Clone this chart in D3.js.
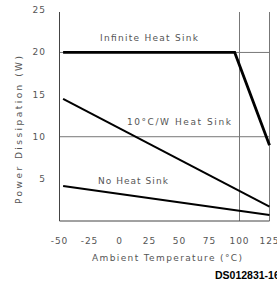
<!DOCTYPE html>
<html>
<head>
<meta charset="utf-8">
<script src="https://cdn.jsdelivr.net/npm/d3@7"></script>
<style>
  body { margin: 0; background: #fff; }
  svg text { font-family: "DejaVu Sans", sans-serif; }
</style>
</head>
<body>
<svg id="chart" width="277" height="284"></svg>
<script>
// curves
var infiniteSink = [[-47, 20], [96, 20], [125, 9]];
var tenCWSink = [[-47, 14.5], [125, 1.7]];
var noSink = [[-47, 4.15], [125, 0.7]];

var xTicks = [-50, -25, 0, 25, 50, 75, 100, 125];
var xTickLabels = ["-50", "-25", "0", "25", "50", "75", "100", "125"];
var yTicks = [5, 10, 15, 20, 25];
var xGrid = [100, 125];
var yGrid = [10, 20];

// label anchors in data units (temperature, watts)
var curveLabels = [
  {text: "Infinite Heat Sink", t: -16.2, p: 21.3, w: 98},
  {text: "10\u00B0C/W Heat Sink", t: 6.2, p: 11.4, w: 104},
  {text: "No Heat Sink", t: -18, p: 4.4, w: 70}
];

var svg = d3.select("#chart");

var x = d3.scaleLinear().domain([-50, 125]).range([59.5, 269.5]);
var y = d3.scaleLinear().domain([0, 25]).range([221, 10.3]);

var grey = "#555";

// grid lines
svg.selectAll(".vgrid").data(xGrid).enter().append("line")
  .attr("x1", function(d) { return x(d); }).attr("x2", function(d) { return x(d); })
  .attr("y1", y(24.8)).attr("y2", y(0))
  .attr("stroke", "#777").attr("stroke-width", 1);

svg.selectAll(".hgrid").data(yGrid).enter().append("line")
  .attr("x1", x(-50)).attr("x2", x(125))
  .attr("y1", function(d) { return y(d); }).attr("y2", function(d) { return y(d); })
  .attr("stroke", "#777").attr("stroke-width", 1);

// axes lines
svg.append("line").attr("x1", x(-50)).attr("x2", x(-50)).attr("y1", y(24.8)).attr("y2", y(0))
  .attr("stroke", "#444").attr("stroke-width", 1);
svg.append("line").attr("x1", x(-50)).attr("x2", x(125)).attr("y1", y(0)).attr("y2", y(0))
  .attr("stroke", "#444").attr("stroke-width", 1);

// tick labels
svg.selectAll(".xt").data(xTicks).enter().append("text")
  .attr("x", function(d) { return x(d); })
  .attr("y", 244)
  .attr("text-anchor", "middle")
  .attr("font-size", 9)
  .attr("letter-spacing", 1)
  .attr("fill", grey)
  .text(function(d, i) { return xTickLabels[i]; });

svg.selectAll(".yt").data(yTicks).enter().append("text")
  .attr("x", 46)
  .attr("y", function(d) { return y(d) + 3; })
  .attr("text-anchor", "end")
  .attr("font-size", 9)
  .attr("letter-spacing", 1)
  .attr("fill", grey)
  .text(function(d) { return d; });

// curves
var line = d3.line().x(function(d) { return x(d[0]); }).y(function(d) { return y(d[1]); });
[[infiniteSink, 2.8], [tenCWSink, 2], [noSink, 2]].forEach(function(c) {
  svg.append("path").attr("d", line(c[0]))
    .attr("fill", "none").attr("stroke", "#000").attr("stroke-width", c[1]);
});

svg.selectAll(".cl").data(curveLabels).enter().append("text")
  .attr("x", function(d) { return x(d.t); })
  .attr("y", function(d) { return y(d.p); })
  .attr("font-size", 9)
  .attr("textLength", function(d) { return d.w; })
  .attr("lengthAdjust", "spacing")
  .attr("fill", grey)
  .text(function(d) { return d.text; });

// axis titles
svg.append("text")
  .attr("transform", "translate(22,130) rotate(-90)")
  .attr("text-anchor", "middle")
  .attr("font-size", 9)
  .attr("textLength", 148)
  .attr("lengthAdjust", "spacing")
  .attr("fill", grey)
  .text("Power Dissipation (W)");

svg.append("text")
  .attr("x", 92).attr("y", 261)
  .attr("font-size", 9)
  .attr("textLength", 150)
  .attr("lengthAdjust", "spacing")
  .attr("fill", grey)
  .text("Ambient Temperature (\u00B0C)");

svg.append("text")
  .attr("x", 215).attr("y", 279)
  .style("font-family", "'Liberation Sans', Arial, sans-serif")
  .style("font-size", "10.5px")
  .style("font-weight", "bold")
  .attr("fill", "#000")
  .text("DS012831-16");
</script>
</body>
</html>
